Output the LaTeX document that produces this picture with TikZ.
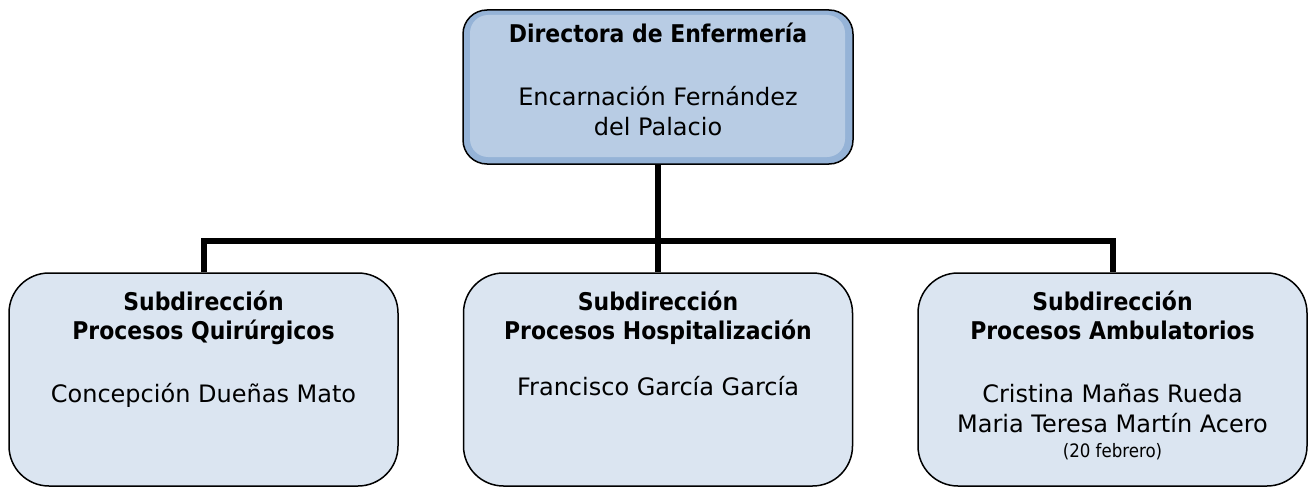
\documentclass[tikz,border=0pt]{standalone}
\usepackage{fontspec}
\setmainfont{DejaVu Sans}
\newfontfamily\boldcond{DejaVu Sans Condensed Bold}
\newfontfamily\smallcond{DejaVu Sans Condensed}
\definecolor{topband}{HTML}{95B3D7}
\definecolor{topfill}{HTML}{B8CCE4}
\definecolor{subfill}{HTML}{DBE5F1}
\begin{document}
\begin{tikzpicture}[x=1pt,y=-1pt,
  box/.style={draw=black,line width=1.5pt,rounded corners=40pt,fill=subfill,
    minimum width=389pt,minimum height=213pt,inner sep=0pt},
  topbox/.style={draw=black,line width=1.5pt,rounded corners=24pt,fill=topband,
    minimum width=390pt,minimum height=154pt,inner sep=0pt},
  conn/.style={line width=6pt,black},
  txt/.style={anchor=base,inner sep=0pt,font=\fontsize{24}{29}\selectfont},
  btxt/.style={txt,font=\fontsize{24.4}{29}\boldcond},
  stxt/.style={txt,font=\fontsize{18.5}{23}\smallcond}]
\useasboundingbox (0,0) rectangle (1311,487);
% boxes
\node[topbox] (top) at (658,87) {};
\fill[topfill,rounded corners=18pt] (470,15) rectangle (845,157);
\node[box] (left) at (203.5,379.5) {};
\node[box] (mid) at (658,379.5) {};
\node[box] (right) at (1112.5,379.5) {};
% connectors
\coordinate (bus) at (658,241);
\draw[conn] (top.south) -- (mid.north);
\draw[conn] (left.north) |- (bus) -| (right.north);
% texts
\node[btxt] (t1) at (658,43) {Directora de Enfermería};
\node[txt] (t2) at (658,105) {Encarnación Fernández};
\node[txt] (t3) at (658,135) {del Palacio};
\node[btxt] (l1) at (203.5,310) {Subdirección};
\node[btxt] (l2) at (203.5,339) {Procesos Quirúrgicos};
\node[txt] (l3) at (203.5,402) {Concepción Dueñas Mato};
\node[btxt] (m1) at (658,310) {Subdirección};
\node[btxt] (m2) at (658,339) {Procesos Hospitalización};
\node[txt] (m3) at (658,395) {Francisco García García};
\node[btxt] (r1) at (1112.5,310) {Subdirección};
\node[btxt] (r2) at (1112.5,339) {Procesos Ambulatorios};
\node[txt] (r3) at (1112.5,402) {Cristina Mañas Rueda};
\node[txt] (r4) at (1112.5,432) {Maria Teresa Martín Acero};
\node[stxt] (r5) at (1112.5,457) {(20 febrero)};
\end{tikzpicture}
\end{document}
